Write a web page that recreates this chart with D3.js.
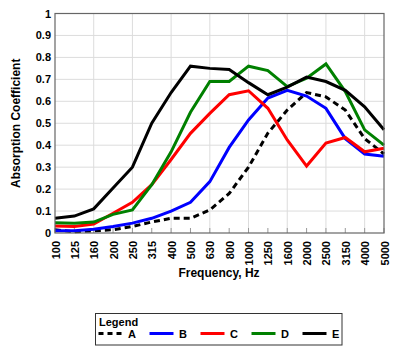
<!DOCTYPE html>
<html>
<head>
<meta charset="utf-8">
<script src="https://cdn.jsdelivr.net/npm/d3@7"></script>
<style>
  html, body { margin: 0; padding: 0; background: #fff; }
  svg { display: block; }
  text { font-family: "Liberation Sans", Arial, sans-serif; font-weight: bold; fill: #000; }
</style>
</head>
<body>
<svg id="chart" width="400" height="353"></svg>
<script>
// ---- data ----
const frequencies = ["100","125","160","200","250","315","400","500","630","800","1000","1250","1600","2000","2500","3150","4000","5000"];
const yTicks = [0,0.1,0.2,0.3,0.4,0.5,0.6,0.7,0.8,0.9,1];
const seriesNames = ["A","B","C","D","E"];
const seriesA = [0.015,0.005,0.01,0.015,0.03,0.05,0.067,0.067,0.105,0.18,0.30,0.455,0.56,0.64,0.62,0.56,0.43,0.36];
const seriesB = [0.01,0.01,0.017,0.03,0.045,0.067,0.10,0.14,0.234,0.39,0.515,0.615,0.65,0.624,0.568,0.43,0.36,0.35];
const seriesC = [0.032,0.03,0.041,0.09,0.14,0.22,0.335,0.454,0.545,0.63,0.648,0.568,0.424,0.305,0.41,0.435,0.37,0.386];
const seriesD = [0.047,0.044,0.05,0.085,0.105,0.22,0.37,0.55,0.69,0.69,0.76,0.74,0.667,0.705,0.77,0.644,0.47,0.40];
const seriesE = [0.067,0.077,0.11,0.205,0.30,0.50,0.64,0.76,0.75,0.745,0.685,0.63,0.665,0.71,0.69,0.65,0.575,0.47];
const seriesColors = ["#000000","#0000ff","#ff0000","#008000","#000000"];
const seriesDash = ["6,4",null,null,null,null];

const seriesValues = [seriesA, seriesB, seriesC, seriesD, seriesE];

// ---- layout ----
const svg = d3.select("#chart");
const L = 55, R = 384, T = 13.5, B = 233;

const x = d3.scalePoint().domain(frequencies).range([L, R]);
const y = d3.scaleLinear().domain([0, 1]).range([B, T]);

// grid
const g = svg.append("g");
g.selectAll("line.hgrid").data(yTicks.slice(1, -1)).enter().append("line")
  .attr("x1", L).attr("x2", R)
  .attr("y1", d => y(d)).attr("y2", d => y(d))
  .attr("stroke", "#dcdcdc").attr("stroke-width", 1);
g.selectAll("line.vgrid").data(frequencies.filter((d, i) => i % 2 === 0 && i > 0)).enter().append("line")
  .attr("x1", d => x(d)).attr("x2", d => x(d))
  .attr("y1", T).attr("y2", B)
  .attr("stroke", "#dcdcdc").attr("stroke-width", 1);

// inner tick marks along bottom
g.selectAll("line.tick").data(frequencies).enter().append("line")
  .attr("x1", d => x(d)).attr("x2", d => x(d))
  .attr("y1", B).attr("y2", B - 5)
  .attr("stroke", "#999").attr("stroke-width", 1);

// lines
const line = d3.line().x((d, i) => x(frequencies[i])).y(d => y(d));
seriesValues.forEach((vals, k) => {
  svg.append("path")
    .attr("d", line(vals))
    .attr("fill", "none")
    .attr("stroke", seriesColors[k])
    .attr("stroke-width", 3)
    .attr("stroke-linejoin", "miter")
    .attr("stroke-dasharray", seriesDash[k]);
});

// frame
svg.append("rect")
  .attr("x", L).attr("y", T).attr("width", R - L).attr("height", B - T)
  .attr("fill", "none").attr("stroke", "#666").attr("stroke-width", 1.2);

// y axis labels
const yAxis = d3.axisLeft(y).tickValues(yTicks).tickSize(0).tickPadding(4)
  .tickFormat(d => d3.format("")(+d.toFixed(1)));
const ya = svg.append("g").attr("transform", `translate(${L},0)`).call(yAxis);
ya.select(".domain").remove();
ya.selectAll("text").style("font-size", "11px").style("font-family", "Liberation Sans, Arial, sans-serif").style("font-weight", "bold").attr("fill", "#000");

// x axis labels (rotated)
const xAxis = d3.axisBottom(x).tickSize(0).tickPadding(0);
const xa = svg.append("g").attr("transform", `translate(0,${B})`).call(xAxis);
xa.select(".domain").remove();
xa.selectAll("text")
  .style("font-size", "11px").style("font-family", "Liberation Sans, Arial, sans-serif").style("font-weight", "bold").attr("fill", "#000")
  .attr("text-anchor", "end")
  .attr("dy", null).attr("y", null)
  .attr("transform", "translate(4,8) rotate(-90)");

// axis titles
svg.append("text")
  .attr("transform", `translate(19.5,${(T + B) / 2}) rotate(-90)`)
  .attr("text-anchor", "middle")
  .style("font-size", "12px")
  .text("Absorption Coefficient");
svg.append("text")
  .attr("x", 219).attr("y", 277)
  .attr("text-anchor", "middle")
  .style("font-size", "12px")
  .text("Frequency, Hz");

// legend
const lg = svg.append("g");
lg.append("rect").attr("x", 95.5).attr("y", 313.5).attr("width", 246.5).attr("height", 31.5)
  .attr("fill", "#fff").attr("stroke", "#333").attr("stroke-width", 1);
lg.append("text").attr("x", 99).attr("y", 325.5).style("font-size", "11px").text("Legend");
seriesNames.forEach((name, k) => {
  const x0 = 98.5 + k * 51;
  lg.append("line").attr("x1", x0).attr("x2", x0 + 24).attr("y1", 333.5).attr("y2", 333.5)
    .attr("stroke", seriesColors[k]).attr("stroke-width", 3)
    .attr("stroke-dasharray", seriesDash[k] ? "5,4" : null);
  lg.append("text").attr("x", x0 + 29.5).attr("y", 337.5).style("font-size", "11px").text(name);
});
</script>
</body>
</html>
